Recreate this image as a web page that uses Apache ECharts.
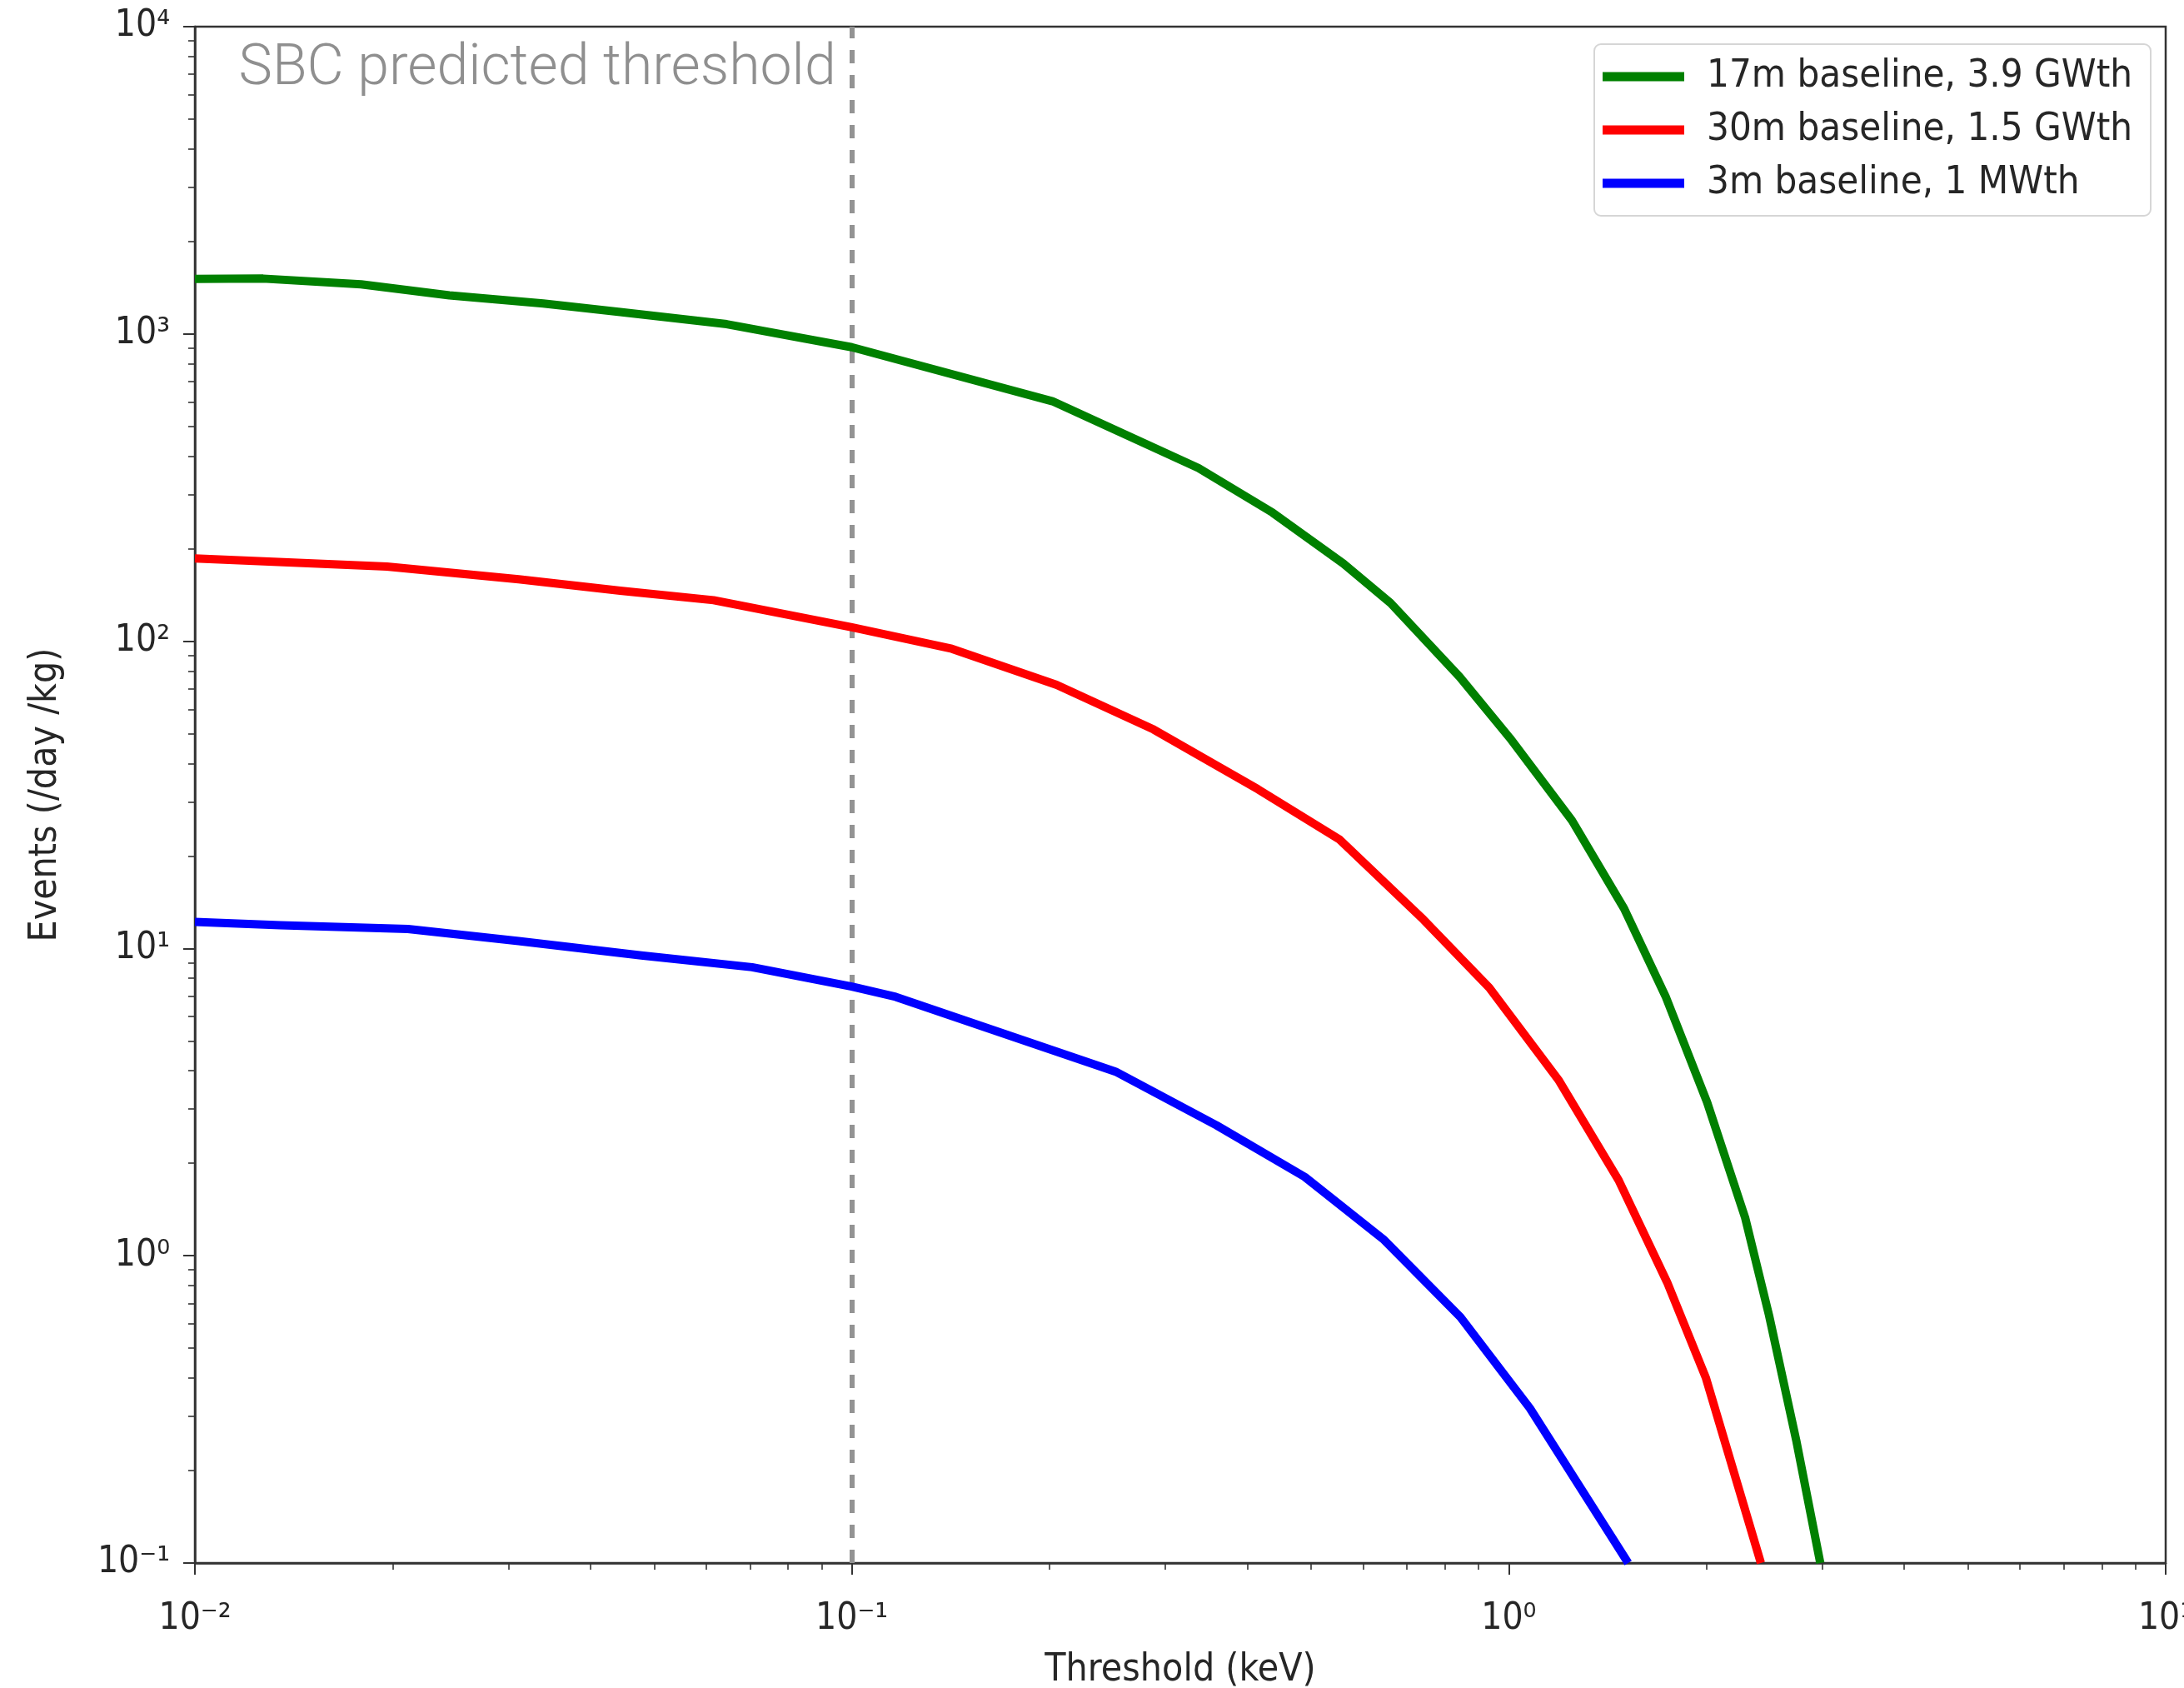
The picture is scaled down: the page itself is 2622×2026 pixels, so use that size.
<!DOCTYPE html>
<html><head><meta charset="utf-8">
<script src="https://cdn.jsdelivr.net/npm/echarts@6/dist/echarts.min.js"></script>
<style>html,body{margin:0;padding:0;background:#fff;}#chart{width:2622px;height:2026px;}</style>
</head><body><div id="chart"></div>
<script>
// ---- data ----
const seriesNames = ['17m baseline, 3.9 GWth', '30m baseline, 1.5 GWth', '3m baseline, 1 MWth'];
const greenX = [0.01, 0.0127, 0.0179, 0.0244, 0.0339, 0.0444, 0.0645, 0.1, 0.202, 0.337, 0.437, 0.560, 0.661, 0.842, 1.004, 1.248, 1.498, 1.732, 2.004, 2.29, 2.49, 2.74, 2.98];
const greenY = [1510, 1514, 1450, 1335, 1256, 1178, 1076, 905, 604, 366, 262, 179, 133, 76.5, 48.4, 26.1, 13.5, 7.0, 3.16, 1.33, 0.64, 0.25, 0.1];
const redX = [0.01, 0.0196, 0.0311, 0.0444, 0.0616, 0.1, 0.142, 0.205, 0.288, 0.415, 0.553, 0.742, 0.934, 1.19, 1.47, 1.742, 1.996, 2.42];
const redY = [186, 175, 159, 146, 136, 111, 94.5, 72.1, 51.6, 33.0, 22.6, 12.4, 7.45, 3.74, 1.76, 0.82, 0.40, 0.1];
const blueX = [0.01, 0.0135, 0.0211, 0.0311, 0.0478, 0.0705, 0.1, 0.1166, 0.252, 0.359, 0.489, 0.646, 0.844, 1.077, 1.52];
const blueY = [12.2, 11.9, 11.57, 10.57, 9.49, 8.69, 7.52, 6.96, 3.975, 2.657, 1.806, 1.126, 0.632, 0.319, 0.1];
const thresholdKeV = 0.1;
const thresholdLabel = 'SBC predicted threshold';
const xAxisTitle = 'Threshold (keV)';
const yAxisTitle = 'Events (/day /kg)';
const xRange = [0.01, 10];
const yRange = [0.1, 10000];
const minorMultipliers = [2, 3, 4, 5, 6, 7, 8, 9];
const seriesColors = ['#008000', '#ff0000', '#0000ff'];

// ---- helpers ----
const FONT = '"DejaVu Sans Condensed", "DejaVu Sans", sans-serif';
const TXT = '#262626';
const AX = '#333333';
const SUP = {'-': '\u207B', '0': '\u2070', '1': '\u00B9', '2': '\u00B2', '3': '\u00B3', '4': '\u2074', '5': '\u2075', '6': '\u2076', '7': '\u2077', '8': '\u2078', '9': '\u2079'};
function powLabel(v) {
  const e = Math.round(Math.log10(v));
  return '10' + String(e).split('').map(c => SUP[c]).join('');
}
function minorLogTicks(range) {
  const out = [];
  const lo = Math.round(Math.log10(range[0])), hi = Math.round(Math.log10(range[1]));
  for (let d = lo; d < hi; d++) minorMultipliers.forEach(m => out.push(Math.log10(m) + d));
  return out;
}
const zip = (xs, ys) => xs.map((x, i) => [x, ys[i]]);

const chart = echarts.init(document.getElementById('chart'), null, {renderer: 'canvas'});
const grid = {left: 234, top: 32, width: 2366, height: 1844, outerBoundsMode: 'none', containLabel: false,
  show: true, borderColor: AX, borderWidth: 2.5, backgroundColor: 'transparent'};

const option = {
  animation: false,
  backgroundColor: '#ffffff',
  grid: grid,
  legend: {
    orient: 'vertical', left: 1914, top: 53,
    data: seriesNames, selectedMode: false,
    icon: 'rect', itemWidth: 98, itemHeight: 11, itemGap: 14,
    padding: [14, 22, 14, 10],
    backgroundColor: 'rgba(255,255,255,0.85)', borderColor: '#d6d6d6', borderWidth: 2, borderRadius: 8,
    textStyle: {fontFamily: FONT, fontSize: 47, color: TXT, lineHeight: 50, padding: [0, 0, 0, 22]}
  },
  xAxis: [
    {
      type: 'log', logBase: 10, min: xRange[0], max: xRange[1], interval: 1, position: 'bottom',
      axisLine: {show: true, onZero: false, lineStyle: {color: AX, width: 2.5}},
      axisTick: {show: true, length: 14, lineStyle: {color: AX, width: 2}},
      axisLabel: {formatter: powLabel, fontFamily: FONT, fontSize: 44, color: TXT, margin: 46},
      splitLine: {show: false}, minorTick: {show: false},
      name: xAxisTitle, nameLocation: 'middle', nameGap: 106,
      nameTextStyle: {fontFamily: FONT, fontSize: 46, color: TXT}
    },
    {
      type: 'value', min: Math.log10(xRange[0]), max: Math.log10(xRange[1]), position: 'bottom',
      axisLine: {show: false, onZero: false}, axisLabel: {show: false}, splitLine: {show: false},
      axisTick: {show: true, customValues: minorLogTicks(xRange), length: 8, lineStyle: {color: AX, width: 1.6}}
    }
  ],
  yAxis: [
    {
      type: 'log', logBase: 10, min: yRange[0], max: yRange[1], interval: 1, position: 'left',
      axisLine: {show: true, onZero: false, lineStyle: {color: AX, width: 2.5}},
      axisTick: {show: true, length: 14, lineStyle: {color: AX, width: 2}},
      axisLabel: {formatter: powLabel, fontFamily: FONT, fontSize: 44, color: TXT, margin: 30, padding: [16, 0, 0, 0]},
      splitLine: {show: false}, minorTick: {show: false},
      name: yAxisTitle, nameLocation: 'middle', nameGap: 156,
      nameTextStyle: {fontFamily: FONT, fontSize: 46, color: TXT}
    },
    {
      type: 'value', min: Math.log10(yRange[0]), max: Math.log10(yRange[1]), position: 'left',
      axisLine: {show: false, onZero: false}, axisLabel: {show: false}, splitLine: {show: false},
      axisTick: {show: true, customValues: minorLogTicks(yRange), length: 8, lineStyle: {color: AX, width: 1.6}}
    }
  ],
  series: [
    {name: seriesNames[0], data: zip(greenX, greenY), color: seriesColors[0]},
    {name: seriesNames[1], data: zip(redX, redY), color: seriesColors[1]},
    {name: seriesNames[2], data: zip(blueX, blueY), color: seriesColors[2]}
  ].map((s, i) => ({
    type: 'line', name: s.name, data: s.data, xAxisIndex: 0, yAxisIndex: 0,
    showSymbol: false, symbol: 'none', clip: true, z: 3,
    itemStyle: {color: s.color},
    lineStyle: {color: s.color, width: 10, cap: 'butt', join: 'round'},
    markLine: i === 0 ? {
      silent: true, symbol: 'none', animation: false, z: 2,
      label: {show: false},
      lineStyle: {color: '#939393', width: 6, type: [16, 14]},
      data: [{xAxis: thresholdKeV}]
    } : undefined
  }))
};
chart.setOption(option);

const px = chart.convertToPixel({xAxisIndex: 0}, thresholdKeV);
chart.setOption({
  graphic: [{
    type: 'text', x: px - 19, y: 84, z: 10,
    style: {text: thresholdLabel, fontFamily: 'Roboto, "Open Sans", sans-serif', fontWeight: 300, fontSize: 68, fill: '#8f8f8f', align: 'right', verticalAlign: 'middle'}
  }]
});
</script></body></html>
